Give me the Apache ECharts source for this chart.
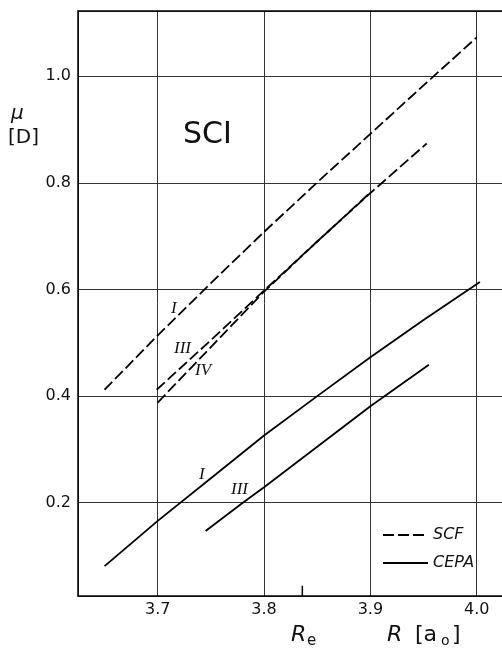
<!DOCTYPE html>
<html>
<head>
<meta charset="utf-8">
<script src="https://cdn.jsdelivr.net/npm/echarts@6/dist/echarts.min.js"></script>
<style>
html,body{margin:0;padding:0;background:#fff;}
#c{width:502px;height:652px;}
</style>
</head>
<body>
<div id="c"></div>
<script>
// ---- data ----
const xTicks = ['3.7', '3.8', '3.9', '4.0'];
const yTicks = ['0.2', '0.4', '0.6', '0.8', '1.0'];
// SCF (dashed)
const scfI   = [[3.65,0.412],[3.70,0.514],[3.75,0.612],[3.80,0.708],[3.85,0.801],[3.90,0.892],[3.95,0.983],[4.00,1.073]];
const scfIII = [[3.699,0.412],[3.75,0.505],[3.80,0.598],[3.85,0.690],[3.90,0.781],[3.953,0.874]];
const scfIV  = [[3.70,0.388],[3.75,0.492],[3.80,0.596],[3.85,0.690],[3.90,0.782]];
// CEPA (solid)
const cepaI   = [[3.65,0.081],[3.70,0.166],[3.75,0.246],[3.80,0.326],[3.85,0.400],[3.90,0.473],[3.95,0.543],[4.003,0.614]];
const cepaIII = [[3.745,0.147],[3.78,0.200],[3.80,0.229],[3.85,0.305],[3.90,0.381],[3.955,0.459]];
// equilibrium distance marker
const Re = 3.836;
const reMark = [[Re,0.025],[Re,0.044]];

const chart = echarts.init(document.getElementById('c'), null, {renderer:'canvas'});
const sans = 'DejaVu Sans';
const dash = [11,4];
const lw = 1.8;

function line(name, data, dashed){
  return {
    type:'line', name:name, data:data, symbol:'none', silent:true, animation:false,
    lineStyle:{color:'#000', width:lw, type: dashed ? dash : 'solid'},
    itemStyle:{color:'#000'}
  };
}
function fmt(list){ return function(v){ const s=v.toFixed(1); return list.indexOf(s)>=0 ? s : ''; }; }

const option = {
  animation:false,
  backgroundColor:'#fff',
  grid:{left:78, top:11, bottom:56, right:0},
  xAxis:[{
    type:'value', min:3.625, max:4.0238, minInterval:0.1, maxInterval:0.1,
    axisLine:{show:true, onZero:false, lineStyle:{color:'#000', width:1.5}},
    axisTick:{show:false},
    axisLabel:{show:true, showMinLabel:false, showMaxLabel:false, color:'#111', fontFamily:sans, fontSize:16, margin:6,
      formatter:fmt(xTicks)},
    splitLine:{show:true, lineStyle:{color:'#333', width:1}}
  },{
    type:'value', position:'top', min:3.625, max:4.0238,
    axisLine:{show:true, onZero:false, lineStyle:{color:'#000', width:1.5}},
    axisTick:{show:false}, axisLabel:{show:false}, splitLine:{show:false}
  }],
  yAxis:{
    type:'value', min:0.025, max:1.1225, minInterval:0.2, maxInterval:0.2,
    axisLine:{show:true, onZero:false, lineStyle:{color:'#000', width:1.5}},
    axisTick:{show:false},
    axisLabel:{show:true, showMinLabel:false, showMaxLabel:false, color:'#111', fontFamily:sans, fontSize:16, margin:7,
      formatter:fmt(yTicks)},
    splitLine:{show:true, lineStyle:{color:'#333', width:1}}
  },
  legend:{
    data:['SCF','CEPA'], orient:'vertical', left:377, top:522, itemWidth:45, itemHeight:14, itemGap:12,
    selectedMode:false,
    itemStyle:{color:'transparent', borderColor:'transparent', borderWidth:0},
    textStyle:{fontFamily:sans, fontStyle:'italic', fontSize:16, color:'#111'}
  },
  series:[
    line('SCF', scfI, true),
    line('SCF', scfIII, true),
    line('SCF', scfIV, true),
    line('CEPA', cepaI, false),
    line('CEPA', cepaIII, false),
    {type:'line', name:'Re', data:reMark, symbol:'none', silent:true, lineStyle:{color:'#000', width:1.5}}
  ],
  graphic:[
    {type:'text', left:183, top:120, style:{text:'SCI', font:'30px "DejaVu Sans"', fill:'#111'}},
    {type:'text', left:11, top:104, style:{text:'μ', font:'italic 20px "DejaVu Sans"', fill:'#111'}},
    {type:'text', left:8, top:128, style:{text:'[D]', font:'20px "DejaVu Sans"', fill:'#111'}},
    // curve labels
    {type:'text', left:171, top:300, style:{text:'I', font:'italic 17px "Liberation Serif"', fill:'#111'}},
    {type:'text', left:174, top:340, style:{text:'III', font:'italic 17px "Liberation Serif"', fill:'#111'}},
    {type:'text', left:195, top:362, style:{text:'IV', font:'italic 17px "Liberation Serif"', fill:'#111'}},
    {type:'text', left:199, top:466, style:{text:'I', font:'italic 17px "Liberation Serif"', fill:'#111'}},
    {type:'text', left:231, top:481, style:{text:'III', font:'italic 17px "Liberation Serif"', fill:'#111'}},
    // x axis titles
    {type:'text', left:291, top:624, style:{text:'R', font:'italic 22px "DejaVu Sans"', fill:'#111'}},
    {type:'text', left:307, top:634, style:{text:'e', font:'15px "DejaVu Sans"', fill:'#111'}},
    {type:'text', left:387, top:624, style:{text:'R', font:'italic 22px "DejaVu Sans"', fill:'#111'}},
    {type:'text', left:415, top:624, style:{text:'[a', font:'22px "DejaVu Sans"', fill:'#111'}},
    {type:'text', left:441, top:634, style:{text:'o', font:'14px "DejaVu Sans"', fill:'#111'}},
    {type:'text', left:452, top:624, style:{text:']', font:'22px "DejaVu Sans"', fill:'#111'}}
  ]
};
chart.setOption(option);
</script>
</body>
</html>
